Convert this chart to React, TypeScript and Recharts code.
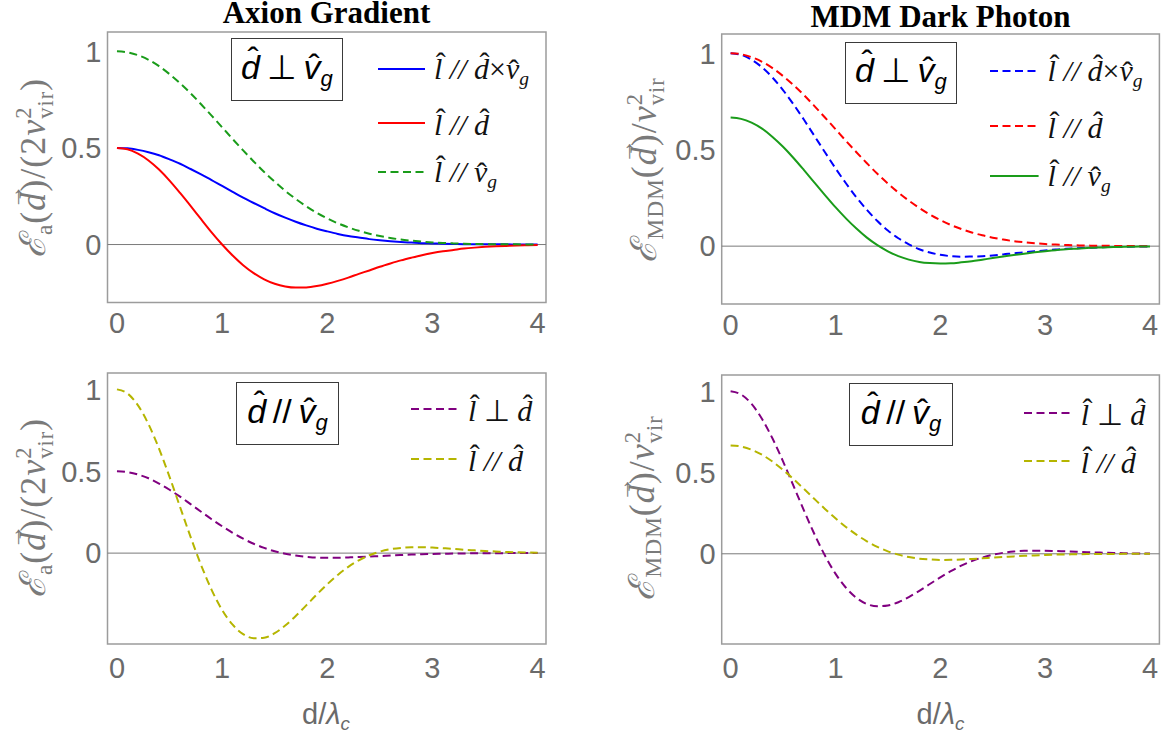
import type { ReactNode } from 'react';
import { LineChart, Line, XAxis, YAxis, ReferenceLine, ReferenceArea } from 'recharts';

// d / lambda_c sample points
const DIST = [
  0, 0.1, 0.2, 0.3, 0.4, 0.5, 0.6, 0.7, 0.8, 0.9, 1, 1.1, 1.2, 1.3, 1.4, 1.5, 1.6, 1.7, 1.8, 1.9, 2,
  2.1, 2.2, 2.3, 2.4, 2.5, 2.6, 2.7, 2.8, 2.9, 3, 3.1, 3.2, 3.3, 3.4, 3.5, 3.6, 3.7, 3.8, 3.9, 4,
];

// Axion gradient, d perp v_g
const AX_PERP_DXV = [
  0.5, 0.498, 0.49, 0.478, 0.462, 0.441, 0.418, 0.391, 0.363, 0.334, 0.303, 0.273, 0.243, 0.215, 0.188, 0.162, 0.139, 0.118, 0.099, 0.082, 0.068,
  0.055, 0.044, 0.036, 0.028, 0.022, 0.017, 0.013, 0.01, 0.007, 0.006, 0.004, 0.003, 0.002, 0.002, 0.001, 0.001, 0.001, 0, 0, 0,
];
const AX_PERP_D = [
  0.5, 0.493, 0.47, 0.435, 0.388, 0.331, 0.267, 0.2, 0.131, 0.063, 0, -0.057, -0.107, -0.148, -0.18, -0.203, -0.217, -0.223, -0.222, -0.215, -0.203,
  -0.188, -0.171, -0.152, -0.134, -0.115, -0.098, -0.082, -0.068, -0.055, -0.044, -0.035, -0.028, -0.021, -0.016, -0.012, -0.009, -0.007, -0.005, -0.004, -0.003,
];
const AX_PERP_VG = [
  1, 0.995, 0.98, 0.956, 0.923, 0.882, 0.835, 0.783, 0.726, 0.667, 0.607, 0.546, 0.487, 0.43, 0.375, 0.325, 0.278, 0.236, 0.198, 0.164, 0.135,
  0.11, 0.089, 0.071, 0.056, 0.044, 0.034, 0.026, 0.02, 0.015, 0.011, 0.008, 0.006, 0.004, 0.003, 0.002, 0.002, 0.001, 0.001, 0, 0,
];

// MDM dark photon, d perp v_g
const MDM_PERP_DXV = [
  1, 0.992, 0.967, 0.927, 0.874, 0.809, 0.735, 0.655, 0.571, 0.487, 0.404, 0.326, 0.253, 0.188, 0.13, 0.081, 0.041, 0.009, -0.016, -0.033, -0.045,
  -0.052, -0.055, -0.054, -0.052, -0.048, -0.043, -0.037, -0.032, -0.027, -0.022, -0.018, -0.014, -0.011, -0.009, -0.007, -0.005, -0.004, -0.003, -0.002, -0.001,
];
const MDM_PERP_D = [
  1, 0.995, 0.98, 0.956, 0.923, 0.882, 0.835, 0.783, 0.726, 0.667, 0.607, 0.546, 0.487, 0.43, 0.375, 0.325, 0.278, 0.236, 0.198, 0.164, 0.135,
  0.11, 0.089, 0.071, 0.056, 0.044, 0.034, 0.026, 0.02, 0.015, 0.011, 0.008, 0.006, 0.004, 0.003, 0.002, 0.002, 0.001, 0.001, 0, 0,
];
const MDM_PERP_VG = [
  0.667, 0.66, 0.64, 0.609, 0.566, 0.515, 0.457, 0.394, 0.329, 0.265, 0.202, 0.144, 0.091, 0.044, 0.005, -0.027, -0.052, -0.07, -0.082, -0.088, -0.09,
  -0.089, -0.084, -0.078, -0.07, -0.062, -0.054, -0.046, -0.039, -0.032, -0.026, -0.021, -0.016, -0.013, -0.01, -0.007, -0.006, -0.004, -0.003, -0.002, -0.002,
];

// Axion gradient, d // v_g
const AX_PAR_PERP = [
  0.5, 0.495, 0.48, 0.457, 0.425, 0.387, 0.345, 0.299, 0.253, 0.207, 0.164, 0.124, 0.088, 0.057, 0.032, 0.011, -0.004, -0.015, -0.022, -0.027, -0.028,
  -0.028, -0.026, -0.024, -0.021, -0.018, -0.015, -0.012, -0.009, -0.007, -0.005, -0.004, -0.003, -0.002, -0.001, -0.001, -0.001, 0, 0, 0, 0,
];
const AX_PAR_D = [
  1, 0.975, 0.902, 0.787, 0.638, 0.466, 0.282, 0.099, -0.073, -0.224, -0.347, -0.437, -0.495, -0.52, -0.517, -0.489, -0.442, -0.384, -0.319, -0.253, -0.19,
  -0.133, -0.084, -0.044, -0.013, 0.009, 0.024, 0.032, 0.036, 0.036, 0.034, 0.03, 0.026, 0.021, 0.017, 0.013, 0.01, 0.007, 0.005, 0.004, 0.003,
];

// MDM dark photon, d // v_g
const MDM_PAR_PERP = [
  1, 0.98, 0.922, 0.829, 0.709, 0.569, 0.418, 0.266, 0.12, -0.011, -0.122, -0.209, -0.271, -0.309, -0.323, -0.318, -0.298, -0.266, -0.228, -0.186, -0.145,
  -0.107, -0.073, -0.045, -0.023, -0.006, 0.006, 0.014, 0.018, 0.019, 0.019, 0.017, 0.015, 0.013, 0.01, 0.008, 0.006, 0.005, 0.003, 0.002, 0.002,
];
const MDM_PAR_D = [
  0.667, 0.66, 0.64, 0.609, 0.567, 0.516, 0.46, 0.399, 0.337, 0.276, 0.218, 0.165, 0.118, 0.077, 0.043, 0.015, -0.005, -0.02, -0.03, -0.035, -0.038,
  -0.037, -0.035, -0.032, -0.028, -0.023, -0.019, -0.016, -0.012, -0.01, -0.007, -0.005, -0.004, -0.003, -0.002, -0.001, -0.001, -0.001, 0, 0, 0,
];

const X_TICKS = [0, 1, 2, 3, 4];
const Y_TICKS = [0, 0.5, 1];

const SERIF = '"Liberation Serif", "Times New Roman", serif';
const SANS = '"Liberation Sans", Arial, sans-serif';
const FRAME = '#9c9c9c';
const TICK = '#6a6a6a';
const BLUE = '#0000ff';
const RED = '#ff0000';
const GREEN = '#1a9c1a';
const PURPLE = '#800080';
const OLIVE = '#b5b500';
const DASH = '8 4.5';

function Accent({ ch, mark = 'ˆ', raise = 0, shift = 0, size = 1 }: { ch: string; mark?: string; raise?: number; shift?: number; size?: number }) {
  return (
    <span style={{ position: 'relative', display: 'inline-block', lineHeight: 1 }}>
      {ch}
      <span
        style={{
          position: 'absolute', left: 0, right: 0, top: 0, textAlign: 'center', fontStyle: 'normal',
          fontSize: `${size}em`, transform: `translate(${shift}em, ${-raise}em)`,
        }}
      >
        {mark}
      </span>
    </span>
  );
}

function SupSub({ sup, sub }: { sup: string; sub: string }) {
  return (
    <span style={{ display: 'inline-flex', flexDirection: 'column', verticalAlign: '0.62em', fontSize: '0.62em', lineHeight: 1, fontStyle: 'normal' }}>
      <span>{sup}</span>
      <span>{sub}</span>
    </span>
  );
}

const sub = (t: string, italic = false) => (
  <sub style={{ fontSize: '0.65em', verticalAlign: '-0.3em', fontStyle: italic ? 'italic' : 'normal' }}>{t}</sub>
);

const L_HAT = <Accent ch="l" raise={0.2} shift={0.06} />;
const D_HAT = <Accent ch="d" raise={0.2} shift={0.1} />;
const V_HAT = <Accent ch="v" raise={-0.02} shift={0.04} />;

const LEG_DXV = <>{L_HAT} // {D_HAT}<span style={{ fontStyle: 'normal' }}>×</span>{V_HAT}{sub('g', true)}</>;
const LEG_D = <>{L_HAT} // {D_HAT}</>;
const LEG_VG = <>{L_HAT} // {V_HAT}{sub('g', true)}</>;
const LEG_PERP = <>{L_HAT} <span style={{ fontStyle: 'normal' }}>⊥</span> {D_HAT}</>;

interface Curve { key: string; values: number[]; color: string; dashed: boolean; label: ReactNode }

const PANEL_AX_PERP: Curve[] = [
  { key: 'lCross', values: AX_PERP_DXV, color: BLUE, dashed: false, label: LEG_DXV },
  { key: 'lAlongD', values: AX_PERP_D, color: RED, dashed: false, label: LEG_D },
  { key: 'lAlongV', values: AX_PERP_VG, color: GREEN, dashed: true, label: LEG_VG },
];
const PANEL_MDM_PERP: Curve[] = [
  { key: 'lCross', values: MDM_PERP_DXV, color: BLUE, dashed: true, label: LEG_DXV },
  { key: 'lAlongD', values: MDM_PERP_D, color: RED, dashed: true, label: LEG_D },
  { key: 'lAlongV', values: MDM_PERP_VG, color: GREEN, dashed: false, label: LEG_VG },
];
const PANEL_AX_PAR: Curve[] = [
  { key: 'lPerp', values: AX_PAR_PERP, color: PURPLE, dashed: true, label: LEG_PERP },
  { key: 'lAlongD', values: AX_PAR_D, color: OLIVE, dashed: true, label: LEG_D },
];
const PANEL_MDM_PAR: Curve[] = [
  { key: 'lPerp', values: MDM_PAR_PERP, color: PURPLE, dashed: true, label: LEG_PERP },
  { key: 'lAlongD', values: MDM_PAR_D, color: OLIVE, dashed: true, label: LEG_D },
];

interface PanelProps {
  left: number; top: number; width: number; height: number;
  marginTop: number; marginRight: number;
  yAxisWidth: number; xAxisHeight: number; tickGap: number;
  xDomain: [number, number]; yDomain: [number, number];
  curves: Curve[];
}

function Panel({ left, top, width, height, marginTop, marginRight, yAxisWidth, xAxisHeight, tickGap, xDomain, yDomain, curves }: PanelProps) {
  const data = DIST.map((dist, i) => {
    const row: Record<string, number> = { dist };
    curves.forEach((c) => { row[c.key] = c.values[i]; });
    return row;
  });
  const tickStyle = { fill: TICK, fontSize: 29, fontFamily: SANS };
  return (
    <div style={{ position: 'absolute', left, top }}>
      <LineChart width={width} height={height} data={data} margin={{ top: marginTop, right: marginRight, bottom: 0, left: 0 }}>
        <ReferenceArea x1={xDomain[0]} x2={xDomain[1]} y1={yDomain[0]} y2={yDomain[1]} fill="#ffffff" fillOpacity={0} stroke={FRAME} strokeWidth={1.5} />
        <ReferenceLine y={0} stroke="#7a7a7a" strokeWidth={1} />
        <XAxis
          dataKey="dist" type="number" domain={xDomain} allowDataOverflow ticks={X_TICKS}
          axisLine={false} tickLine={false} tickSize={6} tickMargin={tickGap} height={xAxisHeight} tick={tickStyle}
        />
        <YAxis
          type="number" domain={yDomain} allowDataOverflow ticks={Y_TICKS}
          axisLine={false} tickLine={false} tickSize={6} tickMargin={0} width={yAxisWidth} tick={tickStyle}
        />
        {curves.map((c) => (
          <Line
            key={c.key} dataKey={c.key} type="monotone" stroke={c.color} strokeWidth={2}
            strokeDasharray={c.dashed ? DASH : undefined} dot={false} isAnimationActive={false}
          />
        ))}
      </LineChart>
    </div>
  );
}

function Legend({ left, textLeft, rows, curves }: { left: number; textLeft: number; rows: number[]; curves: Curve[] }) {
  return (
    <>
      {curves.map((c, i) => (
        <div key={c.key} style={{ position: 'absolute', left, top: rows[i] - 20, height: 40, display: 'flex', alignItems: 'center', whiteSpace: 'nowrap' }}>
          <svg width={textLeft - left - 9} height={4} style={{ display: 'block' }}>
            <line x1={0} y1={2} x2={textLeft - left - 9} y2={2} stroke={c.color} strokeWidth={2.2} strokeDasharray={c.dashed ? DASH : undefined} />
          </svg>
          <span style={{ marginLeft: 9, fontFamily: SERIF, fontStyle: 'italic', fontSize: 30, lineHeight: 1, color: '#111', marginTop: 4 }}>{c.label}</span>
        </div>
      ))}
    </>
  );
}

function Box({ left, top, width, height, rel }: { left: number; top: number; width: number; height: number; rel: ReactNode }) {
  return (
    <div
      style={{
        position: 'absolute', left, top, width, height, boxSizing: 'border-box', border: '1.5px solid #3a3a3a', background: '#fff',
        display: 'flex', alignItems: 'center', justifyContent: 'center', fontFamily: SANS, fontStyle: 'italic', fontSize: 34, color: '#000', whiteSpace: 'nowrap',
      }}
    >
      <span style={{ lineHeight: 1 }}>
        <Accent ch="d" raise={0.24} shift={0.08} />
        <span style={{ fontStyle: 'normal', margin: '0 0.2em' }}>{rel}</span>
        <Accent ch="v" raise={0.02} shift={0.06} />
        {sub('g', true)}
      </span>
    </div>
  );
}

function YLabel({ cx, cy, children }: { cx: number; cy: number; children: ReactNode }) {
  return (
    <div
      style={{
        position: 'absolute', left: cx, top: cy, transform: 'translate(-50%, -50%) rotate(-90deg)', whiteSpace: 'nowrap',
        fontFamily: SERIF, fontSize: 36, letterSpacing: 1, color: '#7a7a7a', lineHeight: 1,
      }}
    >
      {children}
    </div>
  );
}

const VEC_D = <Accent ch="d" mark="→" raise={0.5} shift={0.05} size={0.7} />;

const LABEL_AX = (
  <>
    <i>ℰ</i>{sub('a')}(<i>{VEC_D}</i>)/(2<i>v</i><SupSub sup="2" sub="vir" />)
  </>
);
const LABEL_MDM = (
  <>
    <i>ℰ</i>{sub('MDM')}(<i>{VEC_D}</i>)/<i>v</i><SupSub sup="2" sub="vir" />
  </>
);

function Title({ cx, top, text }: { cx: number; top: number; text: string }) {
  return (
    <div style={{ position: 'absolute', left: cx, top, transform: 'translateX(-50%)', whiteSpace: 'nowrap', fontFamily: SERIF, fontWeight: 'bold', fontSize: 31, lineHeight: 1 }}>
      {text}
    </div>
  );
}

function XLabel({ cx, top }: { cx: number; top: number }) {
  return (
    <div style={{ position: 'absolute', left: cx, top, transform: 'translateX(-50%)', whiteSpace: 'nowrap', fontFamily: SANS, fontSize: 29, color: TICK, lineHeight: 1 }}>
      d/<span style={{ fontStyle: 'italic' }}>λ</span>{sub('c', true)}
    </div>
  );
}

export default function App() {
  return (
    <div style={{ position: 'absolute', left: 0, top: 0, width: 1167, height: 738, background: '#fff', overflow: 'hidden' }}>
      <Panel
        left={0} top={0} width={580} height={360} marginTop={32} marginRight={34}
        yAxisWidth={107.5} xAxisHeight={57.5} tickGap={4}
        xDomain={[-0.09, 4.08]} yDomain={[-0.3, 1.1]} curves={PANEL_AX_PERP}
      />
      <Panel
        left={580} top={0} width={587} height={360} marginTop={34} marginRight={7.6}
        yAxisWidth={141.7} xAxisHeight={56} tickGap={4}
        xDomain={[-0.085, 4.09]} yDomain={[-0.3, 1.1]} curves={PANEL_MDM_PERP}
      />
      <Panel
        left={0} top={360} width={580} height={378} marginTop={13} marginRight={34}
        yAxisWidth={107.5} xAxisHeight={94} tickGap={7}
        xDomain={[-0.09, 4.08]} yDomain={[-0.555, 1.1]} curves={PANEL_AX_PAR}
      />
      <Panel
        left={580} top={360} width={587} height={378} marginTop={15} marginRight={7.6}
        yAxisWidth={141.7} xAxisHeight={94} tickGap={7}
        xDomain={[-0.085, 4.09]} yDomain={[-0.555, 1.1]} curves={PANEL_MDM_PAR}
      />

      <Title cx={326.5} top={-3} text="Axion Gradient" />
      <Title cx={940.5} top={1} text="MDM Dark Photon" />

      <Box left={231} top={38} width={112} height={63} rel="⊥" />
      <Box left={845} top={42} width={112} height={62} rel="⊥" />
      <Box left={236} top={382} width={103} height={63} rel="//" />
      <Box left={849} top={383} width={104} height={63} rel="//" />

      <Legend left={377.5} textLeft={434} rows={[69, 123, 172]} curves={PANEL_AX_PERP} />
      <Legend left={990} textLeft={1047.6} rows={[71, 126, 176]} curves={PANEL_MDM_PERP} />
      <Legend left={411} textLeft={468} rows={[409, 459]} curves={PANEL_AX_PAR} />
      <Legend left={1023.6} textLeft={1080.8} rows={[413, 461]} curves={PANEL_MDM_PAR} />

      <YLabel cx={35} cy={168}>{LABEL_AX}</YLabel>
      <YLabel cx={646} cy={170}>{LABEL_MDM}</YLabel>
      <YLabel cx={35} cy={508}>{LABEL_AX}</YLabel>
      <YLabel cx={644} cy={508}>{LABEL_MDM}</YLabel>

      <XLabel cx={326} top={700} />
      <XLabel cx={940.5} top={700} />
    </div>
  );
}
